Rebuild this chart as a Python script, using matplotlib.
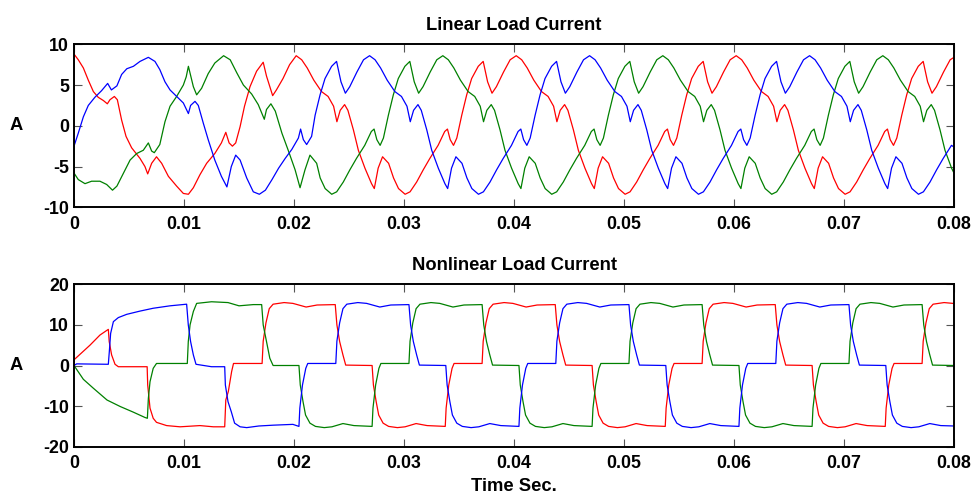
import numpy as np
import matplotlib
matplotlib.use("Agg")
import matplotlib.pyplot as plt

plt.rcParams['font.family'] = ['Liberation Sans', 'DejaVu Sans']
plt.rcParams['font.weight'] = 'bold'
plt.rcParams['axes.unicode_minus'] = False

# ---------------- Linear load current (time in ms, current in A) ----------------
lin_red_t = [0, 0, 0.39, 0.85, 1.3, 1.76, 2.2, 2.67, 3.03, 3.27, 3.67, 3.94, 4.33, 4.73, 5.24, 6.0, 6.45, 6.7, 7.06, 7.5,
             7.97, 8.58, 9.33, 9.94, 10.4, 10.85, 11.45, 12.06, 12.8, 13.4, 13.8, 14.1, 14.4, 14.7, 15.1, 15.5, 16.0, 16.6, 17.2, 17.5,
             18.06, 18.4, 19.0, 19.6,
             20.2, 20.7, 21.2, 21.8, 22.5, 23.1, 23.6, 23.9, 24.2, 24.6, 24.9, 25.4, 25.85, 26.45, 27.05, 27.3, 27.65, 28.05, 28.6, 29.05,
             29.5, 30.1, 30.55, 31.15, 31.75, 32.35, 33.1, 33.7, 33.95, 34.2, 34.5, 34.8, 35.25, 35.7, 36.15, 36.75, 37.2, 37.6, 38.0, 38.4,
             39.05, 39.65,
             40.2, 40.7, 41.2, 41.8, 42.5, 43.1, 43.6, 43.9, 44.2, 44.6, 44.9, 45.4, 45.85, 46.45, 47.05, 47.3, 47.65, 48.05, 48.6, 49.05,
             49.5, 50.1, 50.55, 51.15, 51.75, 52.35, 53.1, 53.7, 53.95, 54.2, 54.5, 54.8, 55.25, 55.7, 56.15, 56.75, 57.2, 57.6, 58.0, 58.4,
             59.05, 59.65,
             60.2, 60.7, 61.2, 61.8, 62.5, 63.1, 63.6, 63.9, 64.2, 64.6, 64.9, 65.4, 65.85, 66.45, 67.05, 67.3, 67.65, 68.05, 68.6, 69.05,
             69.5, 70.1, 70.55, 71.15, 71.75, 72.35, 73.1, 73.7, 73.95, 74.2, 74.5, 74.8, 75.25, 75.7, 76.15, 76.75, 77.2, 77.6, 78.0, 78.4,
             79.05, 79.65, 80.0]
lin_red_v = [0, 8.8, 8.1, 7.1, 5.6, 4.2, 3.5, 3.1, 2.7, 3.2, 3.6, 3.2, 0.7, -1.3, -2.7, -4.0, -5.0, -5.9, -4.6, -3.8,
             -4.6, -6.2, -7.4, -8.3, -8.4, -7.6, -6.0, -4.6, -3.4, -2.1, -0.8, -2.1, -2.5, -2.1, -0.1, 2.4, 4.8, 6.7, 7.8, 6.1,
             3.7, 4.4, 5.8, 7.5,
             8.6, 8.1, 7.1, 5.6, 4.2, 3.6, 2.4, 0.5, 1.9, 2.6, 1.9, -0.5, -3.0, -5.2, -7.1, -7.7, -5.2, -3.8, -4.6, -6.4,
             -7.7, -8.4, -8.1, -6.9, -5.4, -4.0, -2.4, -0.7, -0.4, -1.7, -2.4, -1.5, 1.3, 3.8, 5.8, 7.3, 7.9, 5.4, 4.0, 4.8,
             6.6, 8.1,
             8.6, 8.1, 7.1, 5.6, 4.2, 3.6, 2.4, 0.5, 1.9, 2.6, 1.9, -0.5, -3.0, -5.2, -7.1, -7.7, -5.2, -3.8, -4.6, -6.4,
             -7.7, -8.4, -8.1, -6.9, -5.4, -4.0, -2.4, -0.7, -0.4, -1.7, -2.4, -1.5, 1.3, 3.8, 5.8, 7.3, 7.9, 5.4, 4.0, 4.8,
             6.6, 8.1,
             8.6, 8.1, 7.1, 5.6, 4.2, 3.6, 2.4, 0.5, 1.9, 2.6, 1.9, -0.5, -3.0, -5.2, -7.1, -7.7, -5.2, -3.8, -4.6, -6.4,
             -7.7, -8.4, -8.1, -6.9, -5.4, -4.0, -2.4, -0.7, -0.4, -1.7, -2.4, -1.5, 1.3, 3.8, 5.8, 7.3, 7.9, 5.4, 4.0, 4.8,
             6.6, 8.1, 8.4]

lin_blue_t = [0, 0, 0.39, 0.85, 1.3, 1.9, 2.5, 3.06, 3.4, 3.9, 4.33, 4.8, 5.4, 6.0, 6.76, 7.36, 7.8, 8.27, 8.73, 9.33,
              9.94, 10.4, 10.6, 11.0, 11.3, 11.76, 12.2, 12.8, 13.4, 13.9, 14.3, 14.7, 15.1, 15.7, 16.3, 16.85, 17.4, 18.0, 18.6, 19.2,
              19.8, 20.4, 20.6, 20.85, 21.15, 21.6,
              21.92, 22.37, 22.82, 23.42, 23.87, 24.27, 24.67, 25.07, 25.72, 26.32,
              26.87, 27.37, 27.87, 28.47, 29.17, 29.77, 30.27, 30.57, 30.87, 31.27, 31.57, 32.07, 32.52, 33.12, 33.72, 33.97, 34.32, 34.72,
              35.27, 35.72, 36.17, 36.77, 37.22, 37.82, 38.42, 39.02, 39.77, 40.37, 40.62, 40.87, 41.17, 41.47, 41.92, 42.37, 42.82, 43.42,
              43.87, 44.27, 44.67, 45.07, 45.72, 46.32,
              46.87, 47.37, 47.87, 48.47, 49.17, 49.77, 50.27, 50.57, 50.87, 51.27, 51.57, 52.07, 52.52, 53.12, 53.72, 53.97, 54.32, 54.72,
              55.27, 55.72, 56.17, 56.77, 57.22, 57.82, 58.42, 59.02, 59.77, 60.37, 60.62, 60.87, 61.17, 61.47, 61.92, 62.37, 62.82, 63.42,
              63.87, 64.27, 64.67, 65.07, 65.72, 66.32,
              66.87, 67.37, 67.87, 68.47, 69.17, 69.77, 70.27, 70.57, 70.87, 71.27, 71.57, 72.07, 72.52, 73.12, 73.72, 73.97, 74.32, 74.72,
              75.27, 75.72, 76.17, 76.77, 77.22, 77.82, 78.42, 79.02, 79.77, 80.0]
lin_blue_v = [0, -2.5, -0.9, 1.1, 2.5, 3.5, 4.3, 5.2, 4.4, 4.9, 6.3, 7.0, 7.3, 7.9, 8.4, 7.9, 6.9, 5.4, 4.4, 3.6,
              2.8, 1.5, 2.5, 3.0, 2.5, 0.3, -1.7, -4.2, -6.2, -7.5, -5.0, -3.6, -4.2, -6.4, -8.1, -8.4, -7.9, -6.6, -5.2, -4.0,
              -2.9, -1.5, -0.4, -1.7, -2.3, -1.3,
              1.3, 3.8, 5.8, 7.3, 7.9, 5.4, 4.0, 4.8, 6.6, 8.1,
              8.6, 8.1, 7.1, 5.6, 4.2, 3.6, 2.4, 0.5, 1.9, 2.6, 1.9, -0.5, -3.0, -5.2, -7.1, -7.7, -5.2, -3.8,
              -4.6, -6.4, -7.7, -8.4, -8.1, -6.9, -5.4, -4.0, -2.4, -0.7, -0.4, -1.7, -2.4, -1.5, 1.3, 3.8, 5.8, 7.3,
              7.9, 5.4, 4.0, 4.8, 6.6, 8.1,
              8.6, 8.1, 7.1, 5.6, 4.2, 3.6, 2.4, 0.5, 1.9, 2.6, 1.9, -0.5, -3.0, -5.2, -7.1, -7.7, -5.2, -3.8,
              -4.6, -6.4, -7.7, -8.4, -8.1, -6.9, -5.4, -4.0, -2.4, -0.7, -0.4, -1.7, -2.4, -1.5, 1.3, 3.8, 5.8, 7.3,
              7.9, 5.4, 4.0, 4.8, 6.6, 8.1,
              8.6, 8.1, 7.1, 5.6, 4.2, 3.6, 2.4, 0.5, 1.9, 2.6, 1.9, -0.5, -3.0, -5.2, -7.1, -7.7, -5.2, -3.8,
              -4.6, -6.4, -7.7, -8.4, -8.1, -6.9, -5.4, -4.0, -2.4, -2.6]

lin_green_t = [0, 0, 0.39, 1.0, 1.6, 2.36, 2.97, 3.5, 3.9, 4.5, 5.1, 5.7, 6.3, 6.76, 7.06, 7.3, 7.8, 8.27, 8.73, 9.33,
               9.94, 10.2, 10.4, 10.85, 11.15, 11.6, 12.2, 12.8, 13.6, 14.2, 14.8, 15.4, 16.15, 16.75, 17.3, 17.5, 17.9, 18.3, 18.9, 19.5,
               20.1, 20.55, 21.0, 21.45, 22.06,
               22.38, 22.83, 23.43, 23.88, 24.48, 25.08, 25.68, 26.43, 27.03, 27.28, 27.53, 27.83, 28.13, 28.58, 29.03, 29.48, 30.08, 30.53,
               30.93, 31.33, 31.73, 32.38, 32.98,
               33.53, 34.03, 34.53, 35.13, 35.83, 36.43, 36.93, 37.23, 37.53, 37.93, 38.23, 38.73, 39.18, 39.78, 40.38, 40.63, 40.98, 41.38,
               41.93, 42.38, 42.83, 43.43, 43.88, 44.48, 45.08, 45.68, 46.43, 47.03, 47.28, 47.53, 47.83, 48.13, 48.58, 49.03, 49.48, 50.08,
               50.53, 50.93, 51.33, 51.73, 52.38, 52.98,
               53.53, 54.03, 54.53, 55.13, 55.83, 56.43, 56.93, 57.23, 57.53, 57.93, 58.23, 58.73, 59.18, 59.78, 60.38, 60.63, 60.98, 61.38,
               61.93, 62.38, 62.83, 63.43, 63.88, 64.48, 65.08, 65.68, 66.43, 67.03, 67.28, 67.53, 67.83, 68.13, 68.58, 69.03, 69.48, 70.08,
               70.53, 70.93, 71.33, 71.73, 72.38, 72.98,
               73.53, 74.03, 74.53, 75.13, 75.83, 76.43, 76.93, 77.23, 77.53, 77.93, 78.23, 78.73, 79.18, 79.78, 80.0]
lin_green_v = [0, -5.8, -6.6, -7.1, -6.8, -6.8, -7.2, -7.9, -7.4, -5.8, -4.2, -3.4, -3.0, -2.1, -3.1, -3.3, -2.3, 0.5, 2.4, 3.6,
               5.0, 6.0, 7.3, 4.8, 3.8, 4.6, 6.4, 7.7, 8.6, 8.1, 6.5, 5.0, 3.9, 2.6, 0.8, 2.0, 2.7, 1.8, -0.9, -3.1,
               -5.4, -7.6, -5.4, -3.6, -4.6,
               -6.4, -7.7, -8.4, -8.1, -6.9, -5.4, -4.0, -2.4, -0.7, -0.4, -1.7, -2.4, -1.5, 1.3, 3.8, 5.8, 7.3, 7.9,
               5.4, 4.0, 4.8, 6.6, 8.1,
               8.6, 8.1, 7.1, 5.6, 4.2, 3.6, 2.4, 0.5, 1.9, 2.6, 1.9, -0.5, -3.0, -5.2, -7.1, -7.7, -5.2, -3.8,
               -4.6, -6.4, -7.7, -8.4, -8.1, -6.9, -5.4, -4.0, -2.4, -0.7, -0.4, -1.7, -2.4, -1.5, 1.3, 3.8, 5.8, 7.3,
               7.9, 5.4, 4.0, 4.8, 6.6, 8.1,
               8.6, 8.1, 7.1, 5.6, 4.2, 3.6, 2.4, 0.5, 1.9, 2.6, 1.9, -0.5, -3.0, -5.2, -7.1, -7.7, -5.2, -3.8,
               -4.6, -6.4, -7.7, -8.4, -8.1, -6.9, -5.4, -4.0, -2.4, -0.7, -0.4, -1.7, -2.4, -1.5, 1.3, 3.8, 5.8, 7.3,
               7.9, 5.4, 4.0, 4.8, 6.6, 8.1,
               8.6, 8.1, 7.1, 5.6, 4.2, 3.6, 2.4, 0.5, 1.9, 2.6, 1.9, -0.5, -3.0, -5.2, -5.8]

# ---------------- Nonlinear load current (time in ms, current in A) ----------------
nl_red_t = [0, 0, 1.45, 2.36, 3.12, 3.2, 3.42, 3.73, 4.03, 5.5, 6.65, 6.7, 6.91, 7.2, 7.5, 8.42, 9.64, 11.45, 12.67, 13.7,
            13.8, 14.03, 14.33, 14.5, 16.0,
            17.1, 17.2, 17.45, 17.75, 18.1, 19.1, 19.9, 21.1, 22.1, 23.75, 23.9, 24.15, 24.45, 24.7, 27.1, 27.22, 27.47, 27.7, 28.1, 28.6,
            29.4, 30.1, 31.1, 32.1, 33.75, 33.83, 34.07, 34.37, 34.55,
            37.1, 37.2, 37.45, 37.75, 38.1, 39.1, 39.9, 41.1, 42.1, 43.75, 43.9, 44.15, 44.45, 44.7, 47.1, 47.22, 47.47, 47.7, 48.1, 48.6,
            49.4, 50.1, 51.1, 52.1, 53.75, 53.83, 54.07, 54.37, 54.55,
            57.1, 57.2, 57.45, 57.75, 58.1, 59.1, 59.9, 61.1, 62.1, 63.75, 63.9, 64.15, 64.45, 64.7, 67.1, 67.22, 67.47, 67.7, 68.1, 68.6,
            69.4, 70.1, 71.1, 72.1, 73.75, 73.83, 74.07, 74.37, 74.55,
            77.1, 77.2, 77.45, 77.75, 78.1, 79.1, 79.9, 80.0]
nl_red_v = [0, 1.4, 5.0, 7.5, 8.9, 5.9, 2.6, 0.3, -0.3, -0.3, -0.3, -4.8, -10.5, -13.0, -14.0, -14.8, -15.1, -14.8, -15.1, -15.1,
            -8.5, -6.4, -1.5, 0.5, 0.5,
            0.5, 6.0, 10.5, 14.0, 15.1, 15.5, 15.3, 14.4, 14.9, 15.0, 10.0, 5.9, 2.6, 0.1, 0.0, -4.8, -8.9, -12.2, -14.2, -15.0,
            -15.3, -15.1, -14.3, -14.8, -15.0, -10.5, -4.8, -0.7, 0.5,
            0.5, 6.0, 10.5, 14.0, 15.1, 15.5, 15.3, 14.4, 14.9, 15.0, 10.0, 5.9, 2.6, 0.1, 0.0, -4.8, -8.9, -12.2, -14.2, -15.0,
            -15.3, -15.1, -14.3, -14.8, -15.0, -10.5, -4.8, -0.7, 0.5,
            0.5, 6.0, 10.5, 14.0, 15.1, 15.5, 15.3, 14.4, 14.9, 15.0, 10.0, 5.9, 2.6, 0.1, 0.0, -4.8, -8.9, -12.2, -14.2, -15.0,
            -15.3, -15.1, -14.3, -14.8, -15.0, -10.5, -4.8, -0.7, 0.5,
            0.5, 6.0, 10.5, 14.0, 15.1, 15.5, 15.3, 15.2]

nl_blue_t = [0, 0.24, 3.12, 3.21, 3.33, 3.58, 4.03, 4.79, 6.0, 7.2, 8.73, 10.24, 10.39, 10.6, 10.85, 11.09, 12.5, 13.7, 13.76, 14.0,
             14.3, 14.6, 15.1, 15.7, 16.8, 18.1, 19.9, 20.45, 20.53, 20.77, 21.07, 21.25,
             23.8, 23.9, 24.15, 24.45, 24.8, 25.8, 26.6, 27.8, 28.8, 30.45, 30.6, 30.85, 31.15, 31.4, 33.8, 33.92, 34.17, 34.4, 34.8, 35.3,
             36.1, 36.8, 37.8, 38.8, 40.45, 40.53, 40.77, 41.07, 41.25,
             43.8, 43.9, 44.15, 44.45, 44.8, 45.8, 46.6, 47.8, 48.8, 50.45, 50.6, 50.85, 51.15, 51.4, 53.8, 53.92, 54.17, 54.4, 54.8, 55.3,
             56.1, 56.8, 57.8, 58.8, 60.45, 60.53, 60.77, 61.07, 61.25,
             63.8, 63.9, 64.15, 64.45, 64.8, 65.8, 66.6, 67.8, 68.8, 70.45, 70.6, 70.85, 71.15, 71.4, 73.8, 73.92, 74.17, 74.4, 74.8, 75.3,
             76.1, 76.8, 77.8, 78.8, 80.0]
nl_blue_v = [0, 0.4, 0.3, 3.4, 7.9, 10.8, 11.8, 12.6, 13.4, 14.1, 14.7, 15.1, 10.0, 5.9, 2.6, 0.3, -0.3, -0.3, -4.8, -8.9,
             -11.4, -14.2, -15.1, -15.3, -14.9, -14.7, -14.5, -15.0, -10.5, -4.8, -0.7, 0.5,
             0.5, 6.0, 10.5, 14.0, 15.1, 15.5, 15.3, 14.4, 14.9, 15.0, 10.0, 5.9, 2.6, 0.1, 0.0, -4.8, -8.9, -12.2, -14.2, -15.0,
             -15.3, -15.1, -14.3, -14.8, -15.0, -10.5, -4.8, -0.7, 0.5,
             0.5, 6.0, 10.5, 14.0, 15.1, 15.5, 15.3, 14.4, 14.9, 15.0, 10.0, 5.9, 2.6, 0.1, 0.0, -4.8, -8.9, -12.2, -14.2, -15.0,
             -15.3, -15.1, -14.3, -14.8, -15.0, -10.5, -4.8, -0.7, 0.5,
             0.5, 6.0, 10.5, 14.0, 15.1, 15.5, 15.3, 14.4, 14.9, 15.0, 10.0, 5.9, 2.6, 0.1, 0.0, -4.8, -8.9, -12.2, -14.2, -15.0,
             -15.3, -15.1, -14.3, -14.8, -14.9]

nl_green_t = [0, 0.85, 1.76, 3.0, 4.2, 5.4, 6.45, 6.67, 6.76, 6.91, 7.2, 7.5, 9.0, 10.3, 10.39, 10.55, 10.85, 11.15, 12.5, 14.0,
              15.0, 16.3, 17.06, 17.2, 17.5, 17.8, 18.1,
              20.45, 20.57, 20.82, 21.05, 21.45, 21.95, 22.75, 23.45, 24.45, 25.45, 27.1, 27.18, 27.42, 27.72, 27.9,
              30.45, 30.55, 30.8, 31.1, 31.45, 32.45, 33.25, 34.45, 35.45, 37.1, 37.25, 37.5, 37.8, 38.05, 40.45, 40.57, 40.82, 41.05,
              41.45, 41.95, 42.75, 43.45, 44.45, 45.45, 47.1, 47.18, 47.42, 47.72, 47.9,
              50.45, 50.55, 50.8, 51.1, 51.45, 52.45, 53.25, 54.45, 55.45, 57.1, 57.25, 57.5, 57.8, 58.05, 60.45, 60.57, 60.82, 61.05,
              61.45, 61.95, 62.75, 63.45, 64.45, 65.45, 67.1, 67.18, 67.42, 67.72, 67.9,
              70.45, 70.55, 70.8, 71.1, 71.45, 72.45, 73.25, 74.45, 75.45, 77.1, 77.25, 77.5, 77.8, 78.05, 80.0]
nl_green_v = [0, -3.4, -5.6, -8.5, -10.1, -11.5, -12.8, -13.0, -8.1, -4.0, -0.7, 0.5, 0.5, 0.5, 5.9, 10.0, 13.3, 15.3, 15.7, 15.5,
              14.7, 15.0, 15.0, 10.0, 5.9, 1.8, 0.0,
              0.0, -4.8, -8.9, -12.2, -14.2, -15.0, -15.3, -15.1, -14.3, -14.8, -15.0, -10.5, -4.8, -0.7, 0.5,
              0.5, 6.0, 10.5, 14.0, 15.1, 15.5, 15.3, 14.4, 14.9, 15.0, 10.0, 5.9, 2.6, 0.1, 0.0, -4.8, -8.9, -12.2,
              -14.2, -15.0, -15.3, -15.1, -14.3, -14.8, -15.0, -10.5, -4.8, -0.7, 0.5,
              0.5, 6.0, 10.5, 14.0, 15.1, 15.5, 15.3, 14.4, 14.9, 15.0, 10.0, 5.9, 2.6, 0.1, 0.0, -4.8, -8.9, -12.2,
              -14.2, -15.0, -15.3, -15.1, -14.3, -14.8, -15.0, -10.5, -4.8, -0.7, 0.5,
              0.5, 6.0, 10.5, 14.0, 15.1, 15.5, 15.3, 14.4, 14.9, 15.0, 10.0, 5.9, 2.6, 0.1, 0.0]

# ---------------- Axis settings ----------------
x_ticks = [0, 0.01, 0.02, 0.03, 0.04, 0.05, 0.06, 0.07, 0.08]
x_tick_labels = ['0', '0.01', '0.02', '0.03', '0.04', '0.05', '0.06', '0.07', '0.08']
lin_yticks = [-10, -5, 0, 5, 10]
nl_yticks = [-20, -10, 0, 10, 20]

RED, BLUE, GREEN = '#ff0000', '#0000ff', '#008000'

fig = plt.figure(figsize=(9.73, 4.94), dpi=100)
ax1 = fig.add_axes([74 / 973, 1 - 207.3 / 494, 880 / 973, 163 / 494])
ax2 = fig.add_axes([74 / 973, 1 - 446.7 / 494, 880 / 973, 162.4 / 494])


def ms(t):
    return np.asarray(t, dtype=float) / 1000.0


ax1.plot(ms(lin_red_t), lin_red_v, color=RED, lw=0.9)
ax1.plot(ms(lin_green_t), lin_green_v, color=GREEN, lw=0.9)
ax1.plot(ms(lin_blue_t), lin_blue_v, color=BLUE, lw=0.9)

ax2.plot(ms(nl_red_t), nl_red_v, color=RED, lw=0.9)
ax2.plot(ms(nl_green_t), nl_green_v, color=GREEN, lw=0.9)
ax2.plot(ms(nl_blue_t), nl_blue_v, color=BLUE, lw=0.9)

for ax, yt, ylim, title in ((ax1, lin_yticks, (-10, 10), 'Linear Load Current'),
                            (ax2, nl_yticks, (-20, 20), 'Nonlinear Load Current')):
    ax.set_xlim(0, 0.08)
    ax.set_ylim(*ylim)
    ax.set_xticks(x_ticks)
    ax.set_xticklabels(x_tick_labels)
    ax.set_yticks(yt)
    ax.set_yticklabels([str(v) for v in yt])
    ax.tick_params(direction='in', top=True, right=True, length=6, width=0.8,
                   color='#555555', labelsize=12.8)
    ax.tick_params(axis='x', pad=6)
    ax.tick_params(axis='y', pad=3.5)
    for lbl in ax.get_xticklabels() + ax.get_yticklabels():
        lbl.set_fontweight('bold')
    for sp in ax.spines.values():
        sp.set_linewidth(1.4)
        sp.set_color('black')
    ax.set_title(title, fontsize=13.2, fontweight='bold', pad=10.3)
    ax.set_ylabel('A', rotation=0, fontsize=13.2, fontweight='bold', va='center', ha='center')
    ax.yaxis.set_label_coords(-0.0653, 0.5)

ax2.set_xlabel('Time Sec.', fontsize=13.2, fontweight='bold', labelpad=4)

fig.savefig('out.png', dpi=100)
